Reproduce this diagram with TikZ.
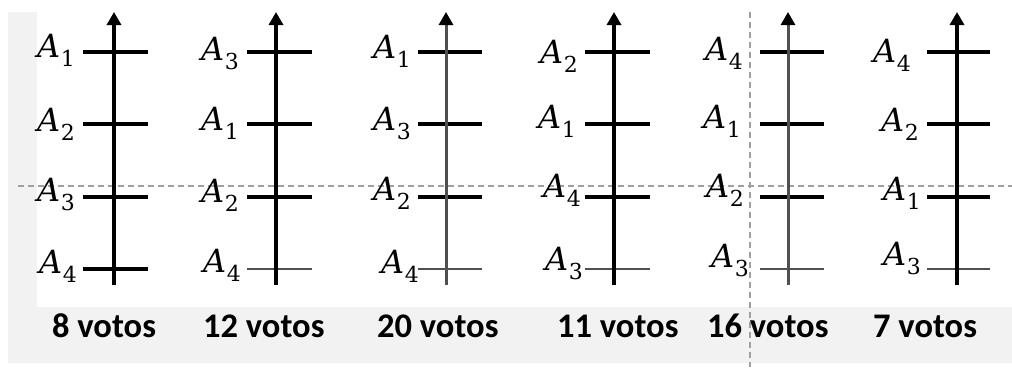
\documentclass[tikz,border=0pt]{standalone}
\usepackage{fontspec}
\newfontfamily\votefont{Carlito}
\newfontfamily\labfont{DejaVu Serif}
\usetikzlibrary{arrows.meta}
\definecolor{bggray}{HTML}{F2F2F2}
\definecolor{dashgray}{HTML}{A0A0A0}
\definecolor{softline}{HTML}{505050}
\newcommand{\alab}[1]{{\labfont\itshape A}\kern0.5pt\raisebox{-9pt}{\labfont\fontsize{22}{22}\selectfont #1}}
\begin{document}
\begin{tikzpicture}[x=1pt,y=-1pt,
  boldaxis/.style={line width=3.3pt, black, -{Triangle[width=14pt,length=13pt,color=black]}},
  softaxis/.style={line width=3pt, softline, -{Triangle[width=14pt,length=13pt,color=black]}},
  boldtick/.style={line width=3.6pt, black},
  softtick/.style={line width=2.2pt, softline},
  guide/.style={line width=1.4pt, dashgray, dash pattern=on 6pt off 4pt},
  lab/.style={inner sep=0pt, anchor=base east, font=\fontsize{32}{32}\selectfont},
  vote/.style={inner sep=0pt, anchor=base west, font=\votefont\bfseries\fontsize{34.5}{34.5}\selectfont}
]
\useasboundingbox (0,0) rectangle (1012,367);
\fill[white] (0,0) rectangle (1012,367);
\fill[bggray] (8,12) rectangle (1012,363);
\fill[white] (37,0) rectangle (1012,307);

% guide lines
\coordinate (hl) at (18,186);
\coordinate (hr) at (1012,186);
\coordinate (vt) at (750,12);
\coordinate (vb) at (750,367);
\draw[guide] (hl) -- (hr);
\draw[guide] (vt) -- (vb);

% coordinates
\foreach \c/\xa/\xl/\xr in {1/114/83/148, 2/276/247/312, 3/446/418/482, 4/614/585/650, 5/788/760/824, 6/957/927/990} {
  \coordinate (ax\c b) at (\xa,285);
  \coordinate (ax\c t) at (\xa,12);
  \foreach \j/\y in {1/52,2/124,3/197,4/269} {
    \coordinate (tk\c-\j l) at (\xl,\y);
    \coordinate (tk\c-\j r) at (\xr,\y);
  }
}

% ticks
\foreach \c in {1,...,6} {
  \foreach \j in {1,2,3} {
    \draw[boldtick] (tk\c-\j l) -- (tk\c-\j r);
  }
}
\draw[boldtick] (tk1-4l) -- (tk1-4r);
\foreach \c in {2,...,6} {
  \draw[softtick] (tk\c-4l) -- (tk\c-4r);
}

% axes
\draw[boldaxis] (ax1b) -- (ax1t);
\draw[boldaxis] (ax2b) -- (ax2t);
\draw[softaxis] (ax3b) -- (ax3t);
\draw[boldaxis] (ax4b) -- (ax4t);
\draw[softaxis] (ax5b) -- (ax5t);
\draw[boldaxis] (ax6b) -- (ax6t);

% labels
\node[lab] (l11) at (75,57) {\alab{1}};
\node[lab] (l12) at (75,131) {\alab{2}};
\node[lab] (l13) at (75,201) {\alab{3}};
\node[lab] (l14) at (77,273) {\alab{4}};

\node[lab] (l21) at (239,60) {\alab{3}};
\node[lab] (l22) at (239,130) {\alab{1}};
\node[lab] (l23) at (239,202) {\alab{2}};
\node[lab] (l24) at (241,272) {\alab{4}};

\node[lab] (l31) at (411,58) {\alab{1}};
\node[lab] (l32) at (411,130) {\alab{3}};
\node[lab] (l33) at (411,200) {\alab{2}};
\node[lab] (l34) at (419,273) {\alab{4}};

\node[lab] (l41) at (578,63) {\alab{2}};
\node[lab] (l42) at (576,128) {\alab{1}};
\node[lab] (l43) at (581,197) {\alab{4}};
\node[lab] (l44) at (583,270) {\alab{3}};

\node[lab] (l51) at (743,60) {\alab{4}};
\node[lab] (l52) at (741,128) {\alab{1}};
\node[lab] (l53) at (744,197) {\alab{2}};
\node[lab] (l54) at (749,267) {\alab{3}};

\node[lab] (l61) at (911,62) {\alab{4}};
\node[lab] (l62) at (919,131) {\alab{2}};
\node[lab] (l63) at (921,200) {\alab{1}};
\node[lab] (l64) at (921,265) {\alab{3}};

% vote counts
\node[vote] (v1) at (52,337) {8 votos};
\node[vote] (v2) at (203,337) {12 votos};
\node[vote] (v3) at (377,337) {20 votos};
\node[vote] (v4) at (557,337) {11 votos};
\node[vote] (v5) at (707,337) {16 votos};
\node[vote] (v6) at (873,337) {7 votos};
\end{tikzpicture}
\end{document}
